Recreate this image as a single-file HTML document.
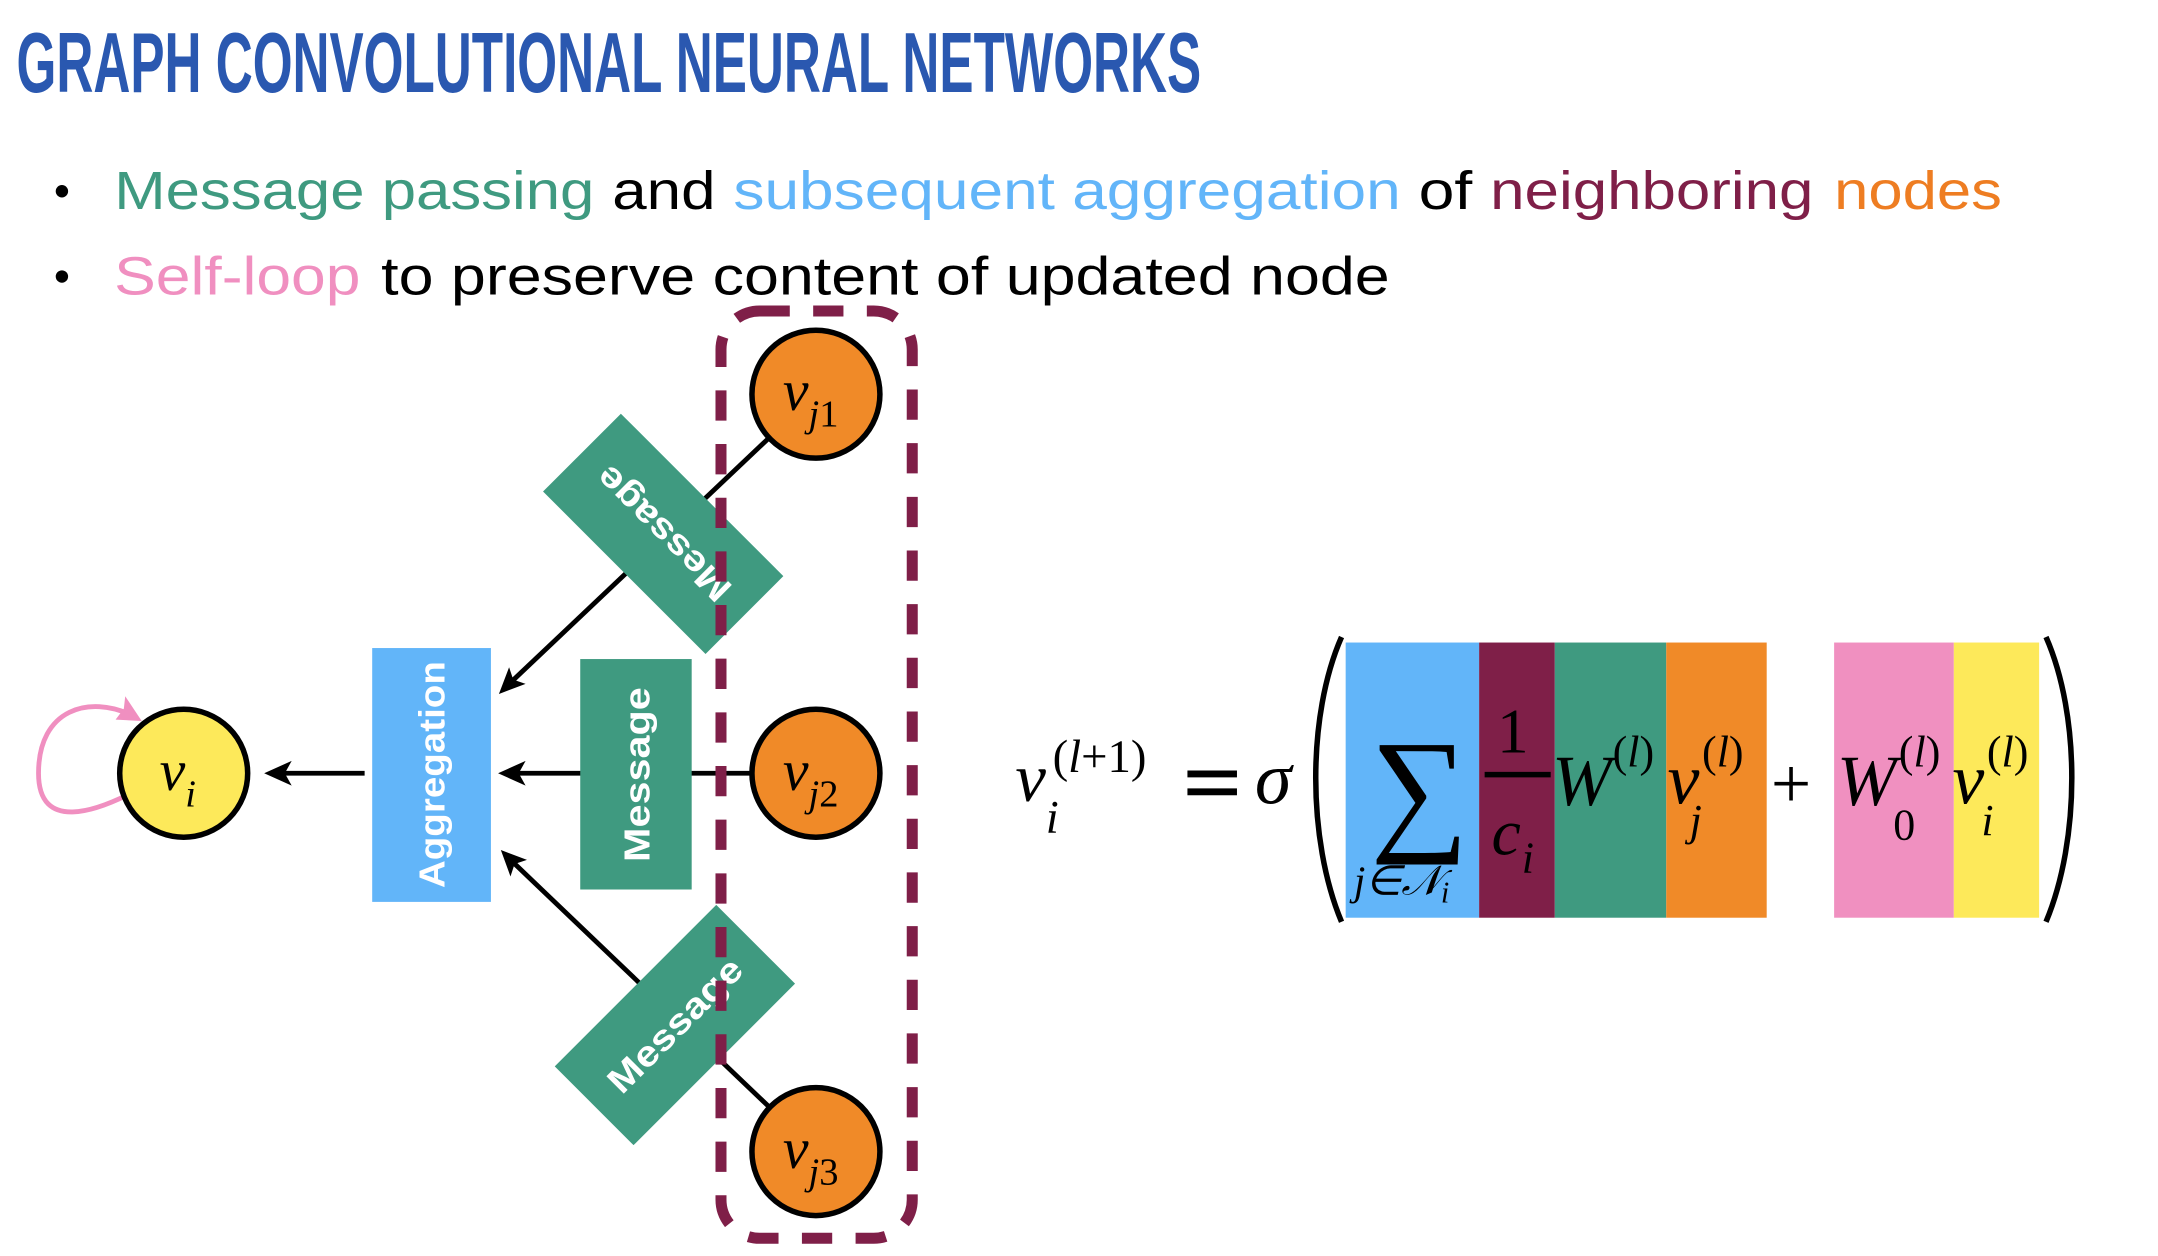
<!DOCTYPE html>
<html><head><meta charset="utf-8"><style>
html,body{margin:0;padding:0;background:#fff;overflow:hidden}
svg{display:block}
</style></head><body>
<svg width="2158" height="1256" viewBox="0 0 1548 901" preserveAspectRatio="none" xmlns="http://www.w3.org/2000/svg">
<rect width="1548" height="901" fill="#fff"/>
<g transform="scale(0.987)">
<text x="12" y="67" font-family="Liberation Sans, sans-serif" font-weight="bold" font-size="62" fill="#2a58b0" textLength="861" lengthAdjust="spacingAndGlyphs">GRAPH CONVOLUTIONAL NEURAL NETWORKS</text>
<circle cx="45" cy="139" r="4.5" fill="#000"/>
<circle cx="45" cy="201" r="4.5" fill="#000"/>
<g font-family="Liberation Sans, sans-serif" font-size="39">
<text x="83" y="152" fill="#3f9a80" textLength="349" lengthAdjust="spacingAndGlyphs">Message passing</text>
<text x="445" y="152" fill="#000" textLength="75" lengthAdjust="spacingAndGlyphs">and</text>
<text x="533" y="152" fill="#62b5f9" textLength="485" lengthAdjust="spacingAndGlyphs">subsequent aggregation</text>
<text x="1031" y="152" fill="#000" textLength="39" lengthAdjust="spacingAndGlyphs">of</text>
<text x="1083" y="152" fill="#7f1f48" textLength="235" lengthAdjust="spacingAndGlyphs">neighboring</text>
<text x="1333" y="152" fill="#ee7d22" textLength="122" lengthAdjust="spacingAndGlyphs">nodes</text>
<text x="83" y="214" fill="#f08fc0" textLength="179" lengthAdjust="spacingAndGlyphs">Self-loop</text>
<text x="277" y="214" fill="#000" textLength="733" lengthAdjust="spacingAndGlyphs">to preserve content of updated node</text>
</g>

<g stroke="#000" stroke-width="3.5" fill="none">
<line x1="593" y1="286" x2="368" y2="499"/>
<line x1="593" y1="837" x2="369" y2="623"/>
<line x1="593" y1="562" x2="372" y2="562"/>
<line x1="265" y1="562" x2="203" y2="562"/>
</g>
<g fill="#000">
<polygon points="192,562 212,553 207,562 212,571"/>
<polygon points="362,562 382,553 377,562 382,571"/>
<polygon points="362.6,504.4 370,485 373,494 382,497"/>
<polygon points="364,617.8 383,625 374,628 371,637"/>
</g>

<rect x="270.5" y="471" width="86.3" height="184.5" fill="#62b5f9"/>
<text transform="translate(323,563) rotate(-90)" text-anchor="middle" font-family="Liberation Sans, sans-serif" font-weight="bold" font-size="26" fill="#fff" textLength="165" lengthAdjust="spacingAndGlyphs">Aggregation</text>

<rect x="421.7" y="479" width="81" height="167.5" fill="#3f9a80"/>
<text transform="translate(472,563) rotate(-90)" text-anchor="middle" font-family="Liberation Sans, sans-serif" font-weight="bold" font-size="26" fill="#fff" textLength="127" lengthAdjust="spacingAndGlyphs">Message</text>

<g transform="translate(482,388) rotate(225)">
<rect x="-83.5" y="-40" width="167" height="80" fill="#3f9a80"/>
<text x="0" y="9" text-anchor="middle" font-family="Liberation Sans, sans-serif" font-weight="bold" font-size="26" fill="#fff" textLength="127" lengthAdjust="spacingAndGlyphs">Message</text>
</g>
<g transform="translate(490.5,745) rotate(-45)">
<rect x="-83" y="-40.5" width="166" height="81" fill="#3f9a80"/>
<text x="0" y="9" text-anchor="middle" font-family="Liberation Sans, sans-serif" font-weight="bold" font-size="26" fill="#fff" textLength="127" lengthAdjust="spacingAndGlyphs">Message</text>
</g>

<rect x="524" y="226" width="139" height="674" rx="28" fill="none" stroke="#7f1f48" stroke-width="8" stroke-dasharray="22 17"/>

<path d="M100,574 C70,590 28,605 28,562 C28,515 65,505 96,520" fill="none" stroke="#f08fc0" stroke-width="3.5"/>
<polygon points="103,524 84,523 90,515 91,506" fill="#f08fc0"/>

<g stroke="#000" stroke-width="4">
<circle cx="133.5" cy="562" r="46.5" fill="#fde95a"/>
<circle cx="593" cy="286.5" r="46.5" fill="#f08a28"/>
<circle cx="593" cy="562" r="46.5" fill="#f08a28"/>
<circle cx="593" cy="837" r="46.5" fill="#f08a28"/>
</g>
<g font-family="Liberation Serif, serif" fill="#000">
<text x="116" y="574" font-size="42" font-style="italic">v<tspan font-size="28" dy="12">i</tspan></text>
<text x="569" y="298" font-size="42" font-style="italic">v<tspan font-size="28" dy="12">j</tspan><tspan font-size="28" font-style="normal">1</tspan></text>
<text x="569" y="574" font-size="42" font-style="italic">v<tspan font-size="28" dy="12">j</tspan><tspan font-size="28" font-style="normal">2</tspan></text>
<text x="569" y="849" font-size="42" font-style="italic">v<tspan font-size="28" dy="12">j</tspan><tspan font-size="28" font-style="normal">3</tspan></text>
</g>

<rect x="978" y="467" width="97" height="200" fill="#62b5f9"/>
<rect x="1075" y="467" width="55" height="200" fill="#7f1f48"/>
<rect x="1130" y="467" width="81" height="200" fill="#3f9a80"/>
<rect x="1211" y="467" width="73" height="200" fill="#f08a28"/>
<rect x="1333" y="467" width="87" height="200" fill="#f090c0"/>
<rect x="1420" y="467" width="62" height="200" fill="#fde95a"/>

<path d="M975,463 C950,520 950,610 975,670" fill="none" stroke="#000" stroke-width="4"/>
<path d="M1487,463 C1512,520 1512,610 1487,670" fill="none" stroke="#000" stroke-width="4"/>

<g font-family="Liberation Serif, serif" fill="#000">
<text x="738" y="582" font-size="50" font-style="italic">v</text>
<text x="760" y="605" font-size="34" font-style="italic">i</text>
<text x="765" y="561" font-size="34">(<tspan font-style="italic">l</tspan>+1)</text>
<rect x="863" y="560" width="36" height="5" fill="#000"/>
<rect x="863" y="573" width="36" height="5" fill="#000"/>
<text x="912" y="584" font-size="54" font-style="italic">σ</text>
<text x="996" y="607" font-size="100">∑</text>
<text x="984" y="650" font-size="30" font-style="italic">j∈𝒩<tspan font-size="22" dy="6">i</tspan></text>
<text x="1088" y="547" font-size="46">1</text>
<rect x="1079" y="561" width="48" height="4" fill="#000"/>
<text x="1084" y="621" font-size="48" font-style="italic">c</text>
<text x="1106" y="634" font-size="32" font-style="italic">i</text>
<text x="1128" y="585" font-size="52" font-style="italic">W</text>
<text x="1172" y="557" font-size="32">(<tspan font-style="italic">l</tspan>)</text>
<text x="1212" y="584" font-size="52" font-style="italic">v</text>
<text x="1237" y="557" font-size="32">(<tspan font-style="italic">l</tspan>)</text>
<text x="1228" y="607" font-size="32" font-style="italic">j</text>
<text x="1287" y="587" font-size="52">+</text>
<text x="1335" y="585" font-size="52" font-style="italic">W</text>
<text x="1380" y="557" font-size="32">(<tspan font-style="italic">l</tspan>)</text>
<text x="1376" y="610" font-size="32">0</text>
<text x="1419" y="584" font-size="52" font-style="italic">v</text>
<text x="1444" y="557" font-size="32">(<tspan font-style="italic">l</tspan>)</text>
<text x="1440" y="607" font-size="32" font-style="italic">i</text>
</g>
</g>
</svg>
</body></html>
